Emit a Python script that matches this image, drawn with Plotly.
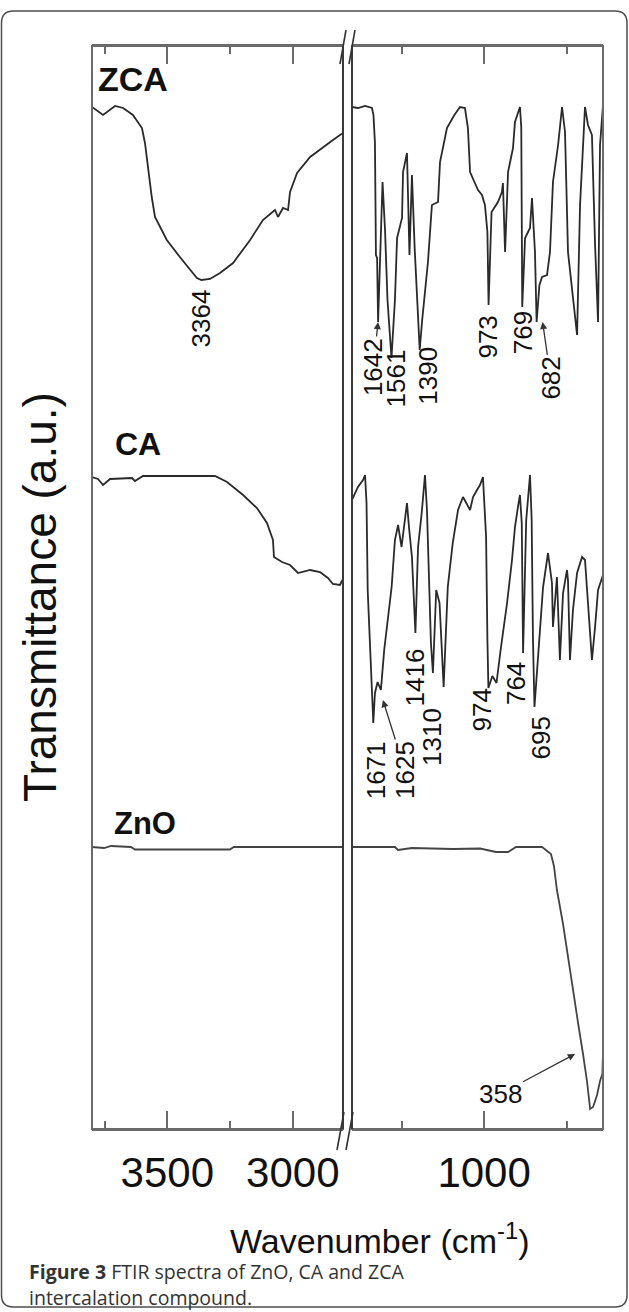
import numpy as np
import plotly.graph_objects as go

# ---------------- spectra: wavenumber (cm-1) and transmittance (a.u.) ----------------
# high-wavenumber window (3800-2800 cm-1)
zca_hi_wn = [3800, 3756, 3708, 3676, 3637, 3601, 3589, 3577, 3562, 3549, 3502, 3450, 3410,
             3382, 3364, 3330, 3290, 3238, 3170, 3119, 3071, 3059, 3039, 3019, 3011, 2983,
             2931, 2880, 2840, 2800]
zca_hi_t = [102.2, 101.4, 102.3, 102.1, 101.4, 100.1, 98.6, 96.2, 93.2, 91.2, 88.9, 87.2, 85.9,
            85.1, 84.9, 85.0, 85.6, 86.6, 88.9, 90.9, 91.9, 91.2, 92.1, 91.9, 93.7, 95.6,
            97.2, 98.2, 98.9, 99.6]

ca_hi_wn = [3800, 3776, 3756, 3728, 3641, 3629, 3597, 3477, 3310, 3262, 3198, 3143, 3103,
            3079, 3075, 3043, 3011, 2979, 2931, 2892, 2860, 2840, 2812, 2800]
ca_hi_t = [65.2, 65.0, 64.4, 65.0, 65.1, 64.8, 65.3, 65.3, 65.3, 64.7, 63.4, 62.1, 60.6,
           58.9, 57.2, 56.7, 56.4, 55.6, 55.9, 55.7, 55.1, 54.5, 54.4, 55.0]

zno_hi_wn = [3800, 3752, 3724, 3645, 3629, 3251, 3235, 2800]
zno_hi_t = [28.2, 28.1, 28.3, 28.2, 27.95, 27.95, 28.2, 28.2]

# fingerprint window (1800-280 cm-1)
zca_lo_wn = [1800, 1764, 1721, 1679, 1670, 1661, 1655, 1648, 1642, 1630, 1615, 1600, 1585,
             1561, 1540, 1527, 1497, 1491, 1467, 1452, 1437, 1420, 1390, 1375, 1340, 1316,
             1279, 1267, 1225, 1180, 1146, 1116, 1098, 1085, 1055, 1037, 1013, 995, 980,
             973, 955, 916, 892, 886, 873, 855, 825, 813, 783, 775, 769, 752, 722, 710,
             692, 682, 665, 649, 619, 601, 583, 552, 528, 510, 492, 437, 419, 389, 371,
             347, 328, 310, 298, 280]
zca_lo_t = [102.2, 102.1, 102.3, 102.1, 101.4, 98.6, 87.4, 87.1, 80.7, 86.9, 94.7, 89.9, 82.9,
            77.1, 82.9, 89.1, 91.1, 95.7, 97.6, 87.4, 95.4, 87.9, 77.9, 80.9, 86.7, 92.4,
            92.7, 96.7, 100.1, 101.4, 102.2, 102.1, 100.1, 95.7, 94.6, 93.9, 93.4, 92.4, 89.7,
            82.4, 91.7, 92.7, 93.7, 94.6, 87.7, 95.7, 98.1, 100.7, 102.2, 100.2, 82.2, 89.1,
            90.1, 93.1, 87.7, 80.7, 84.4, 85.2, 85.4, 87.7, 94.7, 98.4, 102.2, 99.7, 87.7,
            79.4, 92.4, 102.2, 100.4, 99.4, 88.4, 80.7, 98.4, 102.4]

ca_lo_wn = [1800, 1764, 1733, 1721, 1712, 1705, 1671, 1661, 1645, 1625, 1605, 1585, 1560,
            1540, 1521, 1500, 1482, 1467, 1455, 1437, 1416, 1400, 1378, 1358, 1346, 1335,
            1322, 1310, 1290, 1270, 1245, 1220, 1190, 1158, 1128, 1085, 1067, 1043, 1025,
            1007, 988, 980, 974, 950, 925, 900, 861, 831, 813, 795, 783, 772, 764, 745,
            722, 712, 704, 695, 661, 643, 613, 589, 583, 559, 541, 522, 498, 492, 480,
            462, 437, 407, 389, 371, 347, 328, 310, 286, 280]
ca_lo_t = [62.9, 64.2, 64.9, 65.4, 62.6, 53.9, 40.6, 43.6, 44.7, 43.9, 47.9, 50.6, 54.2,
           58.9, 60.4, 58.2, 60.6, 62.6, 60.2, 57.2, 49.6, 58.2, 61.6, 65.4, 61.9, 54.9,
           48.6, 45.6, 53.9, 52.6, 44.2, 54.2, 58.6, 61.9, 63.2, 61.9, 63.2, 63.9, 64.4,
           65.2, 59.2, 48.9, 44.1, 45.3, 44.6, 47.9, 52.6, 56.9, 60.2, 62.2, 63.4, 60.6,
           47.6, 60.9, 65.4, 60.9, 48.9, 42.2, 49.6, 54.2, 57.6, 54.6, 50.2, 55.2, 46.9,
           53.6, 55.9, 54.9, 46.9, 51.9, 55.6, 57.2, 56.9, 52.9, 46.9, 50.2, 53.9, 55.1, 55.4]

zno_lo_wn = [1800, 1540, 1521, 1437, 1316, 1188, 1025, 928, 855, 807, 649, 595, 577, 559,
             522, 492, 462, 431, 401, 377, 358, 340, 316, 298, 284, 280]
zno_lo_t = [28.2, 28.2, 27.9, 28.1, 28.05, 28.0, 28.05, 27.7, 27.7, 28.2, 28.2, 27.5, 26.3,
            23.9, 20.5, 17.1, 13.7, 10.6, 7.5, 4.8, 2.0, 2.2, 3.4, 4.8, 5.5, 7.6]

# peak assignments written on the plot
zca_peaks = [3364, 1642, 1561, 1390, 973, 769, 682]
ca_peaks = [1671, 1625, 1416, 1310, 974, 764, 695]
zno_peaks = [358]
sample_names = ["ZCA", "CA", "ZnO"]
tick_main = [3500, 3000, 1000]
tick_minor_hi = [3750, 3250]
tick_minor_lo = [1500, 500]

# ---------------- page geometry (pixels) ----------------
W, H = 629, 1312
L, R, T, B = 92, 603, 46, 1129
BRK_A, BRK_B = 343, 352


def X(px):
    return (px - L) / (R - L)


def Y(py):
    return (B - py) / (B - T)


LINE = "#2a2a2a"
FRAME = "#6a6a6a"
TXT = "#111111"
SANS = "Liberation Sans, Arial, sans-serif"

fig = go.Figure()
series = [
    (zca_hi_wn, zca_hi_t, zca_lo_wn, zca_lo_t, LINE),
    (ca_hi_wn, ca_hi_t, ca_lo_wn, ca_lo_t, LINE),
    (zno_hi_wn, zno_hi_t, zno_lo_wn, zno_lo_t, "#444444"),
]
for hw, ht, lw, lt, col in series:
    fig.add_trace(go.Scatter(x=hw, y=ht, xaxis="x", yaxis="y", mode="lines",
                             line=dict(color=col, width=1.8), showlegend=False,
                             hoverinfo="skip"))
    fig.add_trace(go.Scatter(x=lw, y=lt, xaxis="x2", yaxis="y", mode="lines",
                             line=dict(color=col, width=1.8), showlegend=False,
                             hoverinfo="skip"))

axis_common = dict(
    ticks="inside", ticklen=18, tickwidth=2, tickcolor=FRAME,
    showline=True, linecolor=FRAME, linewidth=2, mirror="ticks",
    showgrid=False, zeroline=False,
    tickfont=dict(family=SANS, size=42, color=TXT),
    ticklabelstandoff=6,
)
fig.update_layout(
    width=W, height=H,
    margin=dict(l=L, r=W - R, t=T, b=H - B, pad=0),
    paper_bgcolor="white", plot_bgcolor="white",
    xaxis=dict(domain=[0, X(BRK_A)], range=[3800, 2800], anchor="y",
               tickvals=tick_main[:2], ticktext=[str(v) for v in tick_main[:2]],
               minor=dict(tickvals=tick_minor_hi, ticks="inside", ticklen=8,
                          tickwidth=2, tickcolor=FRAME),
               **axis_common),
    xaxis2=dict(domain=[X(BRK_B), 1], range=[1800, 280], anchor="y",
                tickvals=tick_main[2:], ticktext=[str(v) for v in tick_main[2:]],
                minor=dict(tickvals=tick_minor_lo, ticks="inside", ticklen=8,
                           tickwidth=2, tickcolor=FRAME),
                **axis_common),
    yaxis=dict(range=[0, (B - T) / 10], showticklabels=False, ticks="",
               showgrid=False, zeroline=False, showline=False),
)

shapes = []
# panel frames (the two inner edges form the broken-axis double line)
for x0, x1 in [(L, BRK_A), (BRK_B, R)]:
    shapes.append(dict(type="rect", xref="paper", yref="paper",
                       x0=X(x0), x1=X(x1), y0=0, y1=1,
                       line=dict(color=FRAME, width=2)))
for xx in (BRK_A, BRK_B):
    shapes.append(dict(type="line", xref="paper", yref="paper",
                       x0=X(xx), x1=X(xx), y0=0, y1=1,
                       line=dict(color="#3a3a3a", width=2)))
# break marks
for (ax, ay, bx, by) in [(340, 64, 346, 30), (349, 64, 355, 30),
                         (337, 1150, 344, 1112), (346, 1150, 353, 1112)]:
    shapes.append(dict(type="line", xref="paper", yref="paper",
                       x0=X(ax), y0=Y(ay), x1=X(bx), y1=Y(by),
                       line=dict(color="#333333", width=1.6)))
# outer rounded border of the figure box
r = 12
bx0, bx1, by0, by1 = 1.5, 627, 11, 1307
path = (f"M {X(bx0)},{Y(by0 + r)} Q {X(bx0)},{Y(by0)} {X(bx0 + r)},{Y(by0)} "
        f"L {X(bx1 - r)},{Y(by0)} Q {X(bx1)},{Y(by0)} {X(bx1)},{Y(by0 + r)} "
        f"L {X(bx1)},{Y(by1 - r)} Q {X(bx1)},{Y(by1)} {X(bx1 - r)},{Y(by1)} "
        f"L {X(bx0 + r)},{Y(by1)} Q {X(bx0)},{Y(by1)} {X(bx0)},{Y(by1 - r)} Z")
shapes.append(dict(type="path", xref="paper", yref="paper", path=path,
                   line=dict(color="#4d4d4d", width=1.5)))
fig.update_layout(shapes=shapes)

ann = []
PEAK_FONT = dict(family=SANS, size=26, color=TXT)


def curve_value(wn, xs, ys):
    return float(np.interp(wn, xs[::-1], ys[::-1]))


def peak_label(wn, xs, ys, axis, dx, dy):
    ann.append(dict(x=wn, y=curve_value(wn, xs, ys), xref=axis, yref="y",
                    text=str(wn), textangle=-90, showarrow=False,
                    xshift=dx, yshift=dy, xanchor="center", yanchor="middle",
                    font=PEAK_FONT))


def arrow_label(wn, xs, ys, axis, dx, dy, ax, ay, angle=-90):
    # label placed at offset (ax, ay) with an arrow pointing back to the band
    ann.append(dict(x=wn, y=curve_value(wn, xs, ys), xref=axis, yref="y",
                    text=str(wn), textangle=angle, showarrow=True, arrowhead=2,
                    arrowsize=1.1, arrowwidth=1.3, arrowcolor="#333333",
                    standoff=0, ax=ax, ay=ay, xshift=dx, yshift=dy,
                    font=PEAK_FONT))


# ZCA peaks
peak_label(zca_peaks[0], zca_hi_wn, zca_hi_t, "x", 0, -38)
arrow_label(1642, zca_lo_wn, zca_lo_t, "x2", 0, 0, -5, 45)
for wn, (dx, dy) in zip([1561, 1390, 973, 769], [(5, -20), (8, -26), (-1, -32), (1, -26)]):
    peak_label(wn, zca_lo_wn, zca_lo_t, "x2", dx, dy)
arrow_label(682, zca_lo_wn, zca_lo_t, "x2", 6, 0, 8, 56)

# CA peaks
for wn, (dx, dy) in zip([1671, 1416, 1310, 974, 764, 695],
                        [(3, -47), (0, -44), (-1, -64), (-6, -22), (-7, -31), (7, -31)]):
    peak_label(wn, ca_lo_wn, ca_lo_t, "x2", dx, dy)
arrow_label(1625, ca_lo_wn, ca_lo_t, "x2", 2, -10, 22, 70)

# ZnO peak: arrow to the flank of the lattice band
arrow_label(zno_peaks[0], zno_lo_wn, zno_lo_t, "x2", 0, 0, 0, 0, angle=0)
ann[-1].update(x=401, y=curve_value(401, zno_lo_wn, zno_lo_t), xshift=-8,
               ax=-75, ay=40)

# sample names
for name, (cx, cy, fs) in zip(sample_names, [(133, 79, 34), (138, 444, 32), (145, 823, 31)]):
    ann.append(dict(x=X(cx), y=Y(cy), xref="paper", yref="paper", text=f"<b>{name}</b>",
                    showarrow=False, xanchor="center", yanchor="middle",
                    font=dict(family=SANS, size=fs, color=TXT)))

# axis titles
ann.append(dict(x=X(40), y=Y(597), xref="paper", yref="paper",
                text="Transmittance (a.u.)", textangle=-90, showarrow=False,
                xanchor="center", yanchor="middle",
                font=dict(family=SANS, size=46, color=TXT)))
ann.append(dict(x=X(380), y=Y(1238), xref="paper", yref="paper",
                text="Wavenumber (cm<sup>-1</sup>)", showarrow=False,
                xanchor="center", yanchor="middle",
                font=dict(family=SANS, size=34, color=TXT)))

# caption
CAP = dict(family="Open Sans, sans-serif", size=19.5, color="#333333")
ann.append(dict(x=X(27), y=Y(1271), xref="paper", yref="paper",
                text="<b>Figure 3</b> FTIR spectra of ZnO, CA and ZCA",
                showarrow=False, xanchor="left", yanchor="middle", font=CAP))
ann.append(dict(x=X(27), y=Y(1297), xref="paper", yref="paper",
                text="intercalation compound.",
                showarrow=False, xanchor="left", yanchor="middle", font=CAP))

fig.update_layout(annotations=ann)
fig.write_html("out.html")
